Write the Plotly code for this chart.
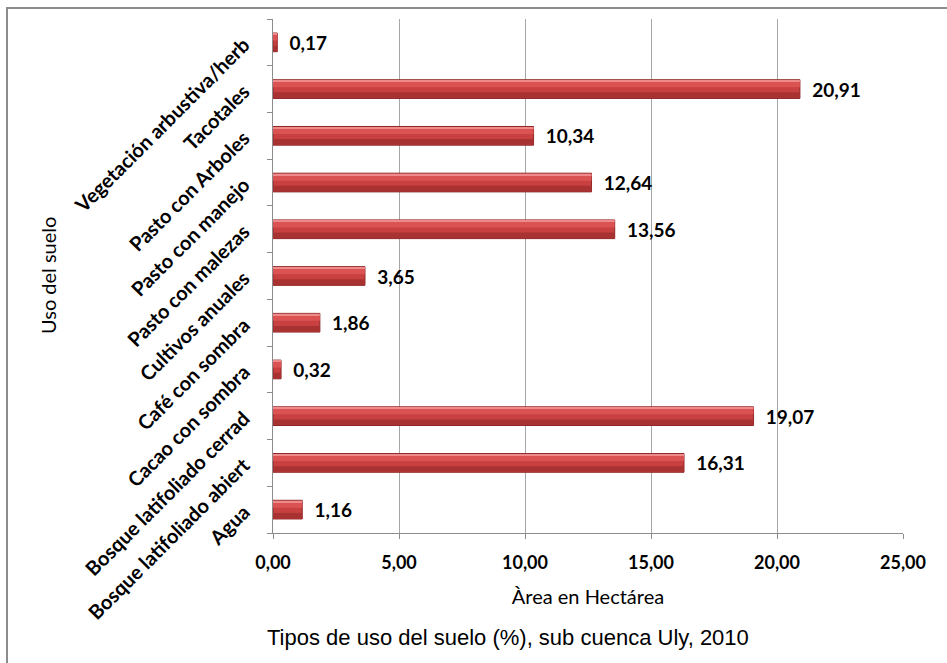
import plotly.graph_objects as go

categories = [
    "Agua",
    "Bosque latifoliado abiert",
    "Bosque latifoliado cerrad",
    "Cacao con sombra",
    "Café con sombra",
    "Cultivos anuales",
    "Pasto con malezas",
    "Pasto con manejo",
    "Pasto con Arboles",
    "Tacotales",
    "Vegetación arbustiva/herb",
]
values = [1.16, 16.31, 19.07, 0.32, 1.86, 3.65, 13.56, 12.64, 10.34, 20.91, 0.17]
x_ticks = [0, 5, 10, 15, 20, 25]

title_text = "Tipos de uso del suelo (%), sub cuenca Uly, 2010"
x_title = "Àrea en Hectárea"
y_title = "Uso del suelo"

fig = go.Figure()

# main bar body
fig.add_trace(go.Bar(
    y=categories, x=values, orientation="h",
    width=0.4, offset=-0.2,
    marker=dict(color="#C94040", line=dict(color="#8E2626", width=1)),
    text=values, texttemplate="  %{x:.2f}", textposition="outside",
    constraintext="none",
    textfont=dict(family="Lato", size=19, color="#000000", weight="bold"),
    cliponaxis=False, hoverinfo="skip",
))
# lower shading
fig.add_trace(go.Bar(
    y=categories, x=values, orientation="h",
    width=0.12, offset=-0.19,
    marker=dict(color="#A83232", line=dict(width=0)),
    hoverinfo="skip",
))
# upper highlight
fig.add_trace(go.Bar(
    y=categories, x=values, orientation="h",
    width=0.12, offset=0.04,
    marker=dict(color="#DA5252", line=dict(width=0)),
    hoverinfo="skip",
))
# top edge light line
fig.add_trace(go.Bar(
    y=categories, x=values, orientation="h",
    width=0.03, offset=0.16,
    marker=dict(color="#EE8A8A", line=dict(width=0)),
    hoverinfo="skip",
))

fig.update_layout(
    width=947, height=663,
    barmode="overlay",
    showlegend=False,
    separators=",.",
    paper_bgcolor="white",
    plot_bgcolor="white",
    margin=dict(l=273, r=44, t=19, b=130),
    font=dict(family="Lato", color="#000000"),
    xaxis=dict(
        range=[0, 25],
        tickvals=x_ticks,
        tickformat=".2f",
        tickfont=dict(family="Lato", size=18, color="#000000", weight="bold"),
        showgrid=True, gridcolor="#A6A6A6", gridwidth=1,
        zeroline=False,
        showline=True, linecolor="#8C8C8C", linewidth=1,
        ticks="outside", ticklen=5, tickcolor="#8C8C8C",
        ticklabelstandoff=8,
        title=dict(text=x_title, font=dict(family="Lato", size=20, color="#000000"), standoff=18),
    ),
    yaxis=dict(
        type="category",
        categoryorder="array", categoryarray=categories,
        tickson="boundaries",
        tickangle=-45,
        tickfont=dict(family="Lato", size=20, color="#000000", weight="bold"),
        showgrid=False,
        showline=True, linecolor="#8C8C8C", linewidth=1,
        ticks="outside", ticklen=5, tickcolor="#8C8C8C",
        ticklabelstandoff=24,
    ),
    annotations=[
        dict(text=title_text, xref="paper", yref="paper",
             x=(508 - 273) / 630, y=1 - (637 - 19) / 514,
             xanchor="center", yanchor="middle", showarrow=False,
             font=dict(family="Liberation Sans", size=22, color="#000000")),
        dict(text=y_title, xref="paper", yref="paper",
             x=(48 - 273) / 630, y=0.5, textangle=-90,
             xanchor="center", yanchor="middle", showarrow=False,
             font=dict(family="Lato", size=20, color="#000000")),
    ],
    shapes=[
        dict(type="rect", xref="paper", yref="paper",
             x0=(7 - 273) / 630, x1=(990 - 273) / 630,
             y0=1 - (700 - 19) / 514, y1=1 - (8 - 19) / 514,
             line=dict(color="#8C8C8C", width=2), fillcolor="rgba(0,0,0,0)",
             layer="below"),
    ],
)

fig.write_html("out.html")
